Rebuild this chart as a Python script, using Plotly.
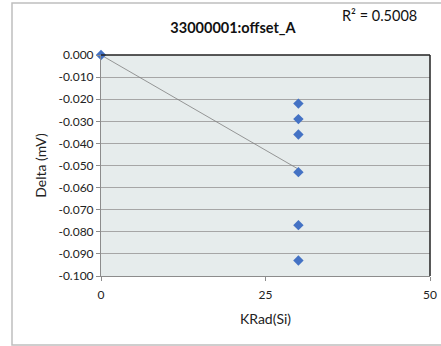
import numpy as np
import plotly.graph_objects as go

krad = [0, 30, 30, 30, 30, 30, 30]
delta = [0.000, -0.022, -0.029, -0.036, -0.053, -0.077, -0.093]
x_ticks = [0, 25, 50]
y_ticks = [0.0, -0.01, -0.02, -0.03, -0.04, -0.05, -0.06, -0.07, -0.08, -0.09, -0.10]
title_text = "33000001:offset_A"
r2_text = "R² = 0.5008"

slope, intercept = np.polyfit(krad, delta, 1)
tx = [min(krad), max(krad)]
ty = [slope * v + intercept for v in tx]

FONT = "Lato, 'Open Sans', sans-serif"
W, H = 441, 346
L, R, T, B = 101, 11, 55, 70
PW, PH = W - L - R, H - T - B


def px_x(p):
    return (p - L) / PW


def px_y(p):
    return (H - B - p) / PH


fig = go.Figure()
fig.add_trace(go.Scatter(x=tx, y=ty, mode="lines",
                         line=dict(color="#7F7F7F", width=0.8),
                         hoverinfo="skip", showlegend=False))
fig.add_trace(go.Scatter(x=krad, y=delta, mode="markers",
                         marker=dict(symbol="diamond", size=8, color="#4472C4"),
                         showlegend=False, cliponaxis=False))

fig.update_layout(
    width=W, height=H, autosize=False,
    margin=dict(l=L, r=R, t=T, b=B, autoexpand=False),
    paper_bgcolor="white", plot_bgcolor="#E6ECEC",
    font=dict(family=FONT, size=12, color="#222"),
    showlegend=False,
    title=dict(text="<b>" + title_text + "</b>", x=px_x(233), xref="paper",
               xanchor="center",
               y=1 - 28 / H, yanchor="middle", font=dict(size=14.5, color="#111")),
    xaxis=dict(range=[0, 50], tickvals=x_ticks, ticktext=[str(v) for v in x_ticks],
               showgrid=False, zeroline=False, showline=True, linecolor="#8C8C8C",
               linewidth=1, ticks="outside", ticklen=4, tickcolor="#8C8C8C",
               automargin=False, ticklabelstandoff=4,
               title=dict(text="KRad(Si)", font=dict(size=14), standoff=12),
               tickfont=dict(size=12)),
    yaxis=dict(range=[-0.1, 0.0], tickvals=y_ticks,
               ticktext=["%.3f" % v for v in y_ticks],
               showgrid=True, gridcolor="#A6A6A6", gridwidth=1, zeroline=False,
               showline=True, linecolor="#8C8C8C", linewidth=1,
               ticks="outside", ticklen=4, tickcolor="#8C8C8C",
               automargin=False,
               title=dict(text="Delta (mV)", font=dict(size=14), standoff=8),
               tickfont=dict(size=12)),
    shapes=[
        dict(type="line", xref="paper", yref="paper", x0=0, x1=1, y0=1, y1=1,
             line=dict(color="#222", width=1.5)),
        dict(type="line", xref="paper", yref="paper", x0=1, x1=1, y0=0, y1=1,
             line=dict(color="#222", width=1.5)),
        dict(type="rect", xref="paper", yref="paper",
             x0=px_x(12), x1=px_x(448), y0=px_y(345), y1=px_y(3),
             line=dict(color="#BFBFBF", width=1.5), layer="below"),
    ],
    annotations=[
        dict(text=r2_text, xref="paper", yref="paper",
             x=px_x(379), y=px_y(16),
             xanchor="center", yanchor="middle", showarrow=False,
             font=dict(size=14.5, color="#111")),
    ],
)

fig.write_html("out.html")
